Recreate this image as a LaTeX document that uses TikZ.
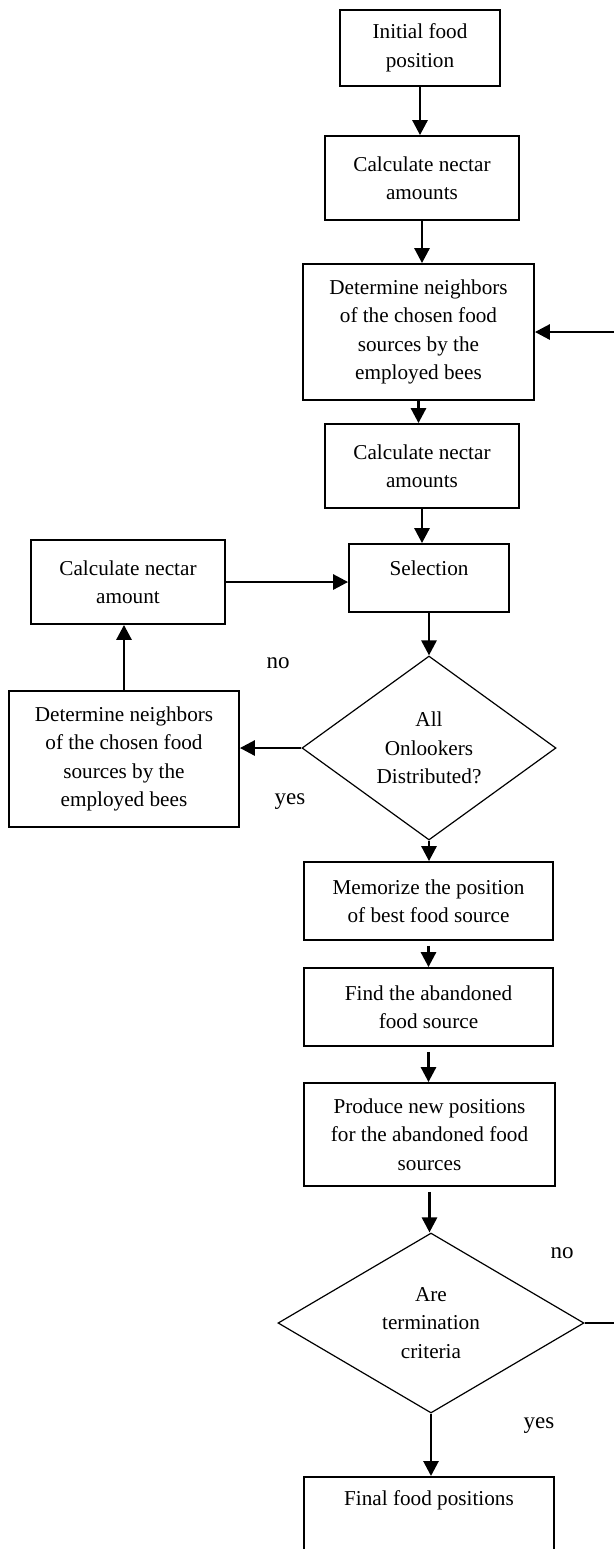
\documentclass[tikz,border=0pt]{standalone}
\usepackage{fontspec}
\setmainfont{Liberation Serif}
\usetikzlibrary{shapes.geometric,arrows.meta}
\newcommand\loopext{45}
\newcommand\arrowgap{2.5pt}

\begin{document}
\begin{tikzpicture}[x=0.5pt, y=-0.5pt, >={Triangle[width=7.5pt,length=7.5pt]}]
	\tikzstyle{every node}=[font=\fontsize{10.6}{14.25}\selectfont]
	\tikzstyle{box}=[draw, line width=0.9pt, inner sep=0pt, align=center]
	\tikzstyle{decision}=[draw, diamond, line width=0.6pt, inner sep=0pt, align=center]
	\tikzstyle{arr}=[->, line width=1.4pt]
	\tikzstyle{answer}=[font=\fontsize{11.5}{14}\selectfont]

	\useasboundingbox (0,0) rectangle (614,1549);

	%main column
	\node[box, minimum width=80pt, minimum height=38pt] (init) at (420,48) {Initial food\\position};
	\node[box, minimum width=97pt, minimum height=42pt] (calc1) at (422,178) {Calculate nectar\\amounts};
	\node[box, minimum width=115.5pt, minimum height=68pt] (nbr1) at (418.5,332) {Determine neighbors\\of the chosen food\\sources by the\\employed bees};
	\node[box, minimum width=97pt, minimum height=42pt] (calc2) at (422,466) {Calculate nectar\\amounts};
	\node[box, minimum width=80pt, text height=15.5pt, text depth=18.5pt] (sel) at (429,578) {Selection};
	\node[decision, minimum width=127pt, minimum height=92pt] (dec1) at (429,748) {All\\Onlookers\\Distributed?};
	\node[box, minimum width=124.5pt, minimum height=39pt] (mem) at (428.5,901) {Memorize the position\\of best food source};
	\node[box, minimum width=124.5pt, minimum height=39pt] (find) at (428.5,1007) {Find the abandoned\\food source};
	\node[box, minimum width=125.5pt, minimum height=51.5pt] (prod) at (429.5,1134.5) {Produce new positions\\for the abandoned food\\sources};
	\node[decision, minimum width=153pt, minimum height=90pt] (dec2) at (431,1323) {Are\\termination\\criteria};
	\node[box, anchor=north, minimum width=125pt, text height=14.5pt, text depth=40pt] (final) at (429,1476) {Final food positions};

	%onlooker branch
	\node[box, minimum width=97pt, minimum height=42pt] (calc3) at (128,582) {Calculate nectar\\amount};
	\node[box, minimum width=115pt, minimum height=68pt] (nbr2) at (124,759) {Determine neighbors\\of the chosen food\\sources by the\\employed bees};

	%answers
	\node[answer] (no1) at (278,663) {no};
	\node[answer] (yes1) at (290,802) {yes};
	\node[answer] (no2) at (562,1253) {no};
	\node[answer] (yes2) at (539,1426) {yes};

	%arrows
	\draw[arr] (init.south) -- (init.south |- calc1.north);
	\draw[arr] (calc1.south) -- (calc1.south |- nbr1.north);
	\draw[arr] (nbr1.south) -- (nbr1.south |- calc2.north);
	\draw[arr] (calc2.south) -- (calc2.south |- sel.north);
	\draw[arr] (sel.south) -- (dec1.north);
	\draw[arr] (dec1.south) -- (dec1.south |- mem.north);
	\draw[arr, shorten <=\arrowgap] (mem.south) -- (find.north);
	\draw[arr, shorten <=\arrowgap] (find.south) -- (find.south |- prod.north);
	\draw[arr, shorten <=\arrowgap] (prod.south) -- (prod.south |- dec2.north);
	\draw[arr] (dec2.south) -- (dec2.south |- final.north);
	\draw[arr] (dec1.west) -- (dec1.west -| nbr2.east);
	\draw[arr] (nbr2.north) -- (nbr2.north |- calc3.south);
	\draw[arr] (calc3.east) -- (calc3.east -| sel.west);
	\draw[arr] (dec2.east) -- ++(\loopext,0) |- (nbr1.east);
\end{tikzpicture}
\end{document}
